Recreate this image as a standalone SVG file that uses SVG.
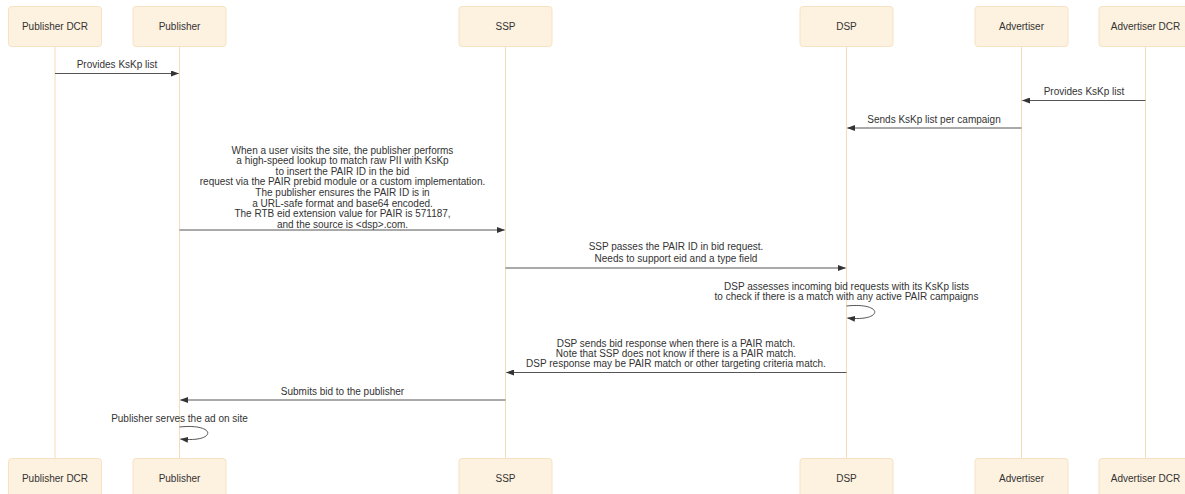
<svg xmlns="http://www.w3.org/2000/svg" width="1185" height="494" viewBox="0 0 1185 494">
<style>
.box{fill:#fdf1df;stroke:#f7e3c4;stroke-width:1}
.life{stroke:#f3dcb6;stroke-width:1}
.lbl{font-family:"Liberation Sans",Arial,sans-serif;font-size:10px;fill:#333;text-anchor:middle}
.msg{stroke:#555;stroke-width:1;fill:none}
</style>
<defs>
<marker id="ah" markerWidth="8" markerHeight="6" refX="7.5" refY="3" orient="auto" markerUnits="userSpaceOnUse">
<path d="M0,0 L8,3 L0,6 Z" fill="#333"/>
</marker>
</defs>
<rect width="1185" height="494" fill="#fff"/>
<g id="lifelines">
<line class="life" x1="55" y1="46" x2="55" y2="458"/>
<line class="life" x1="179.5" y1="46" x2="179.5" y2="458"/>
<line class="life" x1="505.5" y1="46" x2="505.5" y2="458"/>
<line class="life" x1="846.5" y1="46" x2="846.5" y2="458"/>
<line class="life" x1="1021.5" y1="46" x2="1021.5" y2="458"/>
<line class="life" x1="1145.5" y1="46" x2="1145.5" y2="458"/>
</g>
<g id="publisher-dcr">
<rect class="box" x="8.5" y="6.5" width="93" height="40" rx="3"/>
<text class="lbl" x="55" y="30">Publisher DCR</text>
<rect class="box" x="8.5" y="458.5" width="93" height="40" rx="3"/>
<text class="lbl" x="55" y="482">Publisher DCR</text>
</g>
<g id="publisher">
<rect class="box" x="133" y="6.5" width="93" height="40" rx="3"/>
<text class="lbl" x="179.5" y="30">Publisher</text>
<rect class="box" x="133" y="458.5" width="93" height="40" rx="3"/>
<text class="lbl" x="179.5" y="482">Publisher</text>
</g>
<g id="ssp">
<rect class="box" x="459" y="6.5" width="93" height="40" rx="3"/>
<text class="lbl" x="505.5" y="30">SSP</text>
<rect class="box" x="459" y="458.5" width="93" height="40" rx="3"/>
<text class="lbl" x="505.5" y="482">SSP</text>
</g>
<g id="dsp">
<rect class="box" x="800" y="6.5" width="93" height="40" rx="3"/>
<text class="lbl" x="846.5" y="30">DSP</text>
<rect class="box" x="800" y="458.5" width="93" height="40" rx="3"/>
<text class="lbl" x="846.5" y="482">DSP</text>
</g>
<g id="advertiser">
<rect class="box" x="975" y="6.5" width="93" height="40" rx="3"/>
<text class="lbl" x="1021.5" y="30">Advertiser</text>
<rect class="box" x="975" y="458.5" width="93" height="40" rx="3"/>
<text class="lbl" x="1021.5" y="482">Advertiser</text>
</g>
<g id="advertiser-dcr">
<rect class="box" x="1099" y="6.5" width="93" height="40" rx="3"/>
<text class="lbl" x="1145.5" y="30">Advertiser DCR</text>
<rect class="box" x="1099" y="458.5" width="93" height="40" rx="3"/>
<text class="lbl" x="1145.5" y="482">Advertiser DCR</text>
</g>
<g id="connectors">
<line class="msg" x1="55" y1="73.5" x2="178.5" y2="73.5" marker-end="url(#ah)"/>
<text class="lbl" x="117" y="68">Provides KsKp list</text>
<line class="msg" x1="1145.5" y1="100.5" x2="1022.5" y2="100.5" marker-end="url(#ah)"/>
<text class="lbl" x="1084" y="95">Provides KsKp list</text>
<line class="msg" x1="1021.5" y1="128" x2="847.5" y2="128" marker-end="url(#ah)"/>
<text class="lbl" x="934" y="123">Sends KsKp list per campaign</text>
<line class="msg" x1="179.5" y1="230" x2="504.5" y2="230" marker-end="url(#ah)"/>
<text class="lbl" x="342.5" y="153.5">When a user visits the site, the publisher performs</text>
<text class="lbl" x="342.5" y="164.1">a high-speed lookup to match raw PII with KsKp</text>
<text class="lbl" x="342.5" y="174.7">to insert the PAIR ID in the bid</text>
<text class="lbl" x="342.5" y="185.3">request via the PAIR prebid module or a custom implementation.</text>
<text class="lbl" x="342.5" y="195.9">The publisher ensures the PAIR ID is in</text>
<text class="lbl" x="342.5" y="206.5">a URL-safe format and base64 encoded.</text>
<text class="lbl" x="342.5" y="217.1">The RTB eid extension value for PAIR is 571187,</text>
<text class="lbl" x="342.5" y="227.7">and the source is &lt;dsp&gt;.com.</text>
<line class="msg" x1="505.5" y1="268" x2="845.5" y2="268" marker-end="url(#ah)"/>
<text class="lbl" x="676" y="250">SSP passes the PAIR ID in bid request.</text>
<text class="lbl" x="676" y="262">Needs to support eid and a type field</text>
<text class="lbl" x="846.5" y="290">DSP assesses incoming bid requests with its KsKp lists</text>
<text class="lbl" x="846.5" y="300">to check if there is a match with any active PAIR campaigns</text>
<path class="msg" d="M846.5,306 C884,302 884,322 847.5,318" marker-end="url(#ah)"/>
<line class="msg" x1="846.5" y1="372.5" x2="506.5" y2="372.5" marker-end="url(#ah)"/>
<text class="lbl" x="676" y="347">DSP sends bid response when there is a PAIR match.</text>
<text class="lbl" x="676" y="357">Note that SSP does not know if there is a PAIR match.</text>
<text class="lbl" x="676" y="367">DSP response may be PAIR match or other targeting criteria match.</text>
<line class="msg" x1="505.5" y1="400" x2="180.5" y2="400" marker-end="url(#ah)"/>
<text class="lbl" x="342.5" y="395">Submits bid to the publisher</text>
<text class="lbl" x="179.5" y="422">Publisher serves the ad on site</text>
<path class="msg" d="M179.5,427 C217,423 217,443 180.5,439" marker-end="url(#ah)"/>
</g>
</svg>
